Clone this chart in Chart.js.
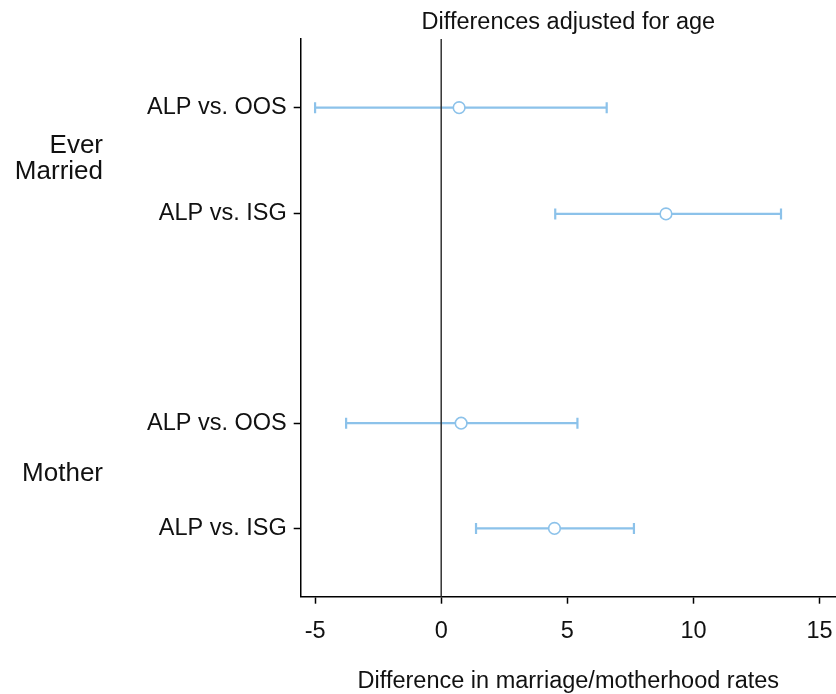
<!DOCTYPE html>
<html>
<head>
<meta charset="utf-8">
<script src="https://cdn.jsdelivr.net/npm/chart.js@4.4.1/dist/chart.umd.min.js"></script>
<style>
  body { margin: 0; background: #fff; }
  #wrap { width: 836px; height: 694px; }
</style>
</head>
<body>
<div id="wrap"><canvas id="diffChart"></canvas></div>
<script>
// Comparisons, grouped by outcome
const rowLabels = ['ALP vs. OOS', 'ALP vs. ISG', 'ALP vs. OOS', 'ALP vs. ISG'];
const rowGroups = ['Ever Married', 'Ever Married', 'Mother', 'Mother'];
const rowPos = [1, 2, 3.97, 4.96];

// Point estimates and interval bounds
const estimates = [0.71, 8.91, 0.79, 4.49];
const lowerCI = [-5.0, 4.52, -3.77, 1.38];
const upperCI = [6.56, 13.47, 5.40, 7.64];

const xTicks = [-5, 0, 5, 10, 15];

const FONT = "'Liberation Sans', Arial, sans-serif";
const TEXT = '#111';
const CI_COLOR = '#8cc2ea';

// Interval lines, zero line, title and group labels
const forestPlugin = {
    id: 'forest',
    beforeDatasetsDraw(chart) {
        const { ctx, chartArea, scales: { x, y } } = chart;
        ctx.save();
        ctx.strokeStyle = CI_COLOR;
        ctx.lineWidth = 2.2;
        rowPos.forEach((pos, i) => {
            const py = y.getPixelForValue(pos);
            const x0 = x.getPixelForValue(lowerCI[i]);
            const x1 = x.getPixelForValue(upperCI[i]);
            ctx.beginPath();
            ctx.moveTo(x0, py);
            ctx.lineTo(x1, py);
            ctx.moveTo(x0, py - 5.5);
            ctx.lineTo(x0, py + 5.5);
            ctx.moveTo(x1, py - 5.5);
            ctx.lineTo(x1, py + 5.5);
            ctx.stroke();
        });

        const zx = x.getPixelForValue(0);
        ctx.strokeStyle = '#333';
        ctx.lineWidth = 1.5;
        ctx.beginPath();
        ctx.moveTo(zx, chartArea.top);
        ctx.lineTo(zx, chartArea.bottom);
        ctx.stroke();
        ctx.restore();
    },
    afterDraw(chart) {
        const { ctx, chartArea, scales: { y } } = chart;
        ctx.save();
        ctx.fillStyle = TEXT;
        ctx.textBaseline = 'middle';

        ctx.font = '23.5px ' + FONT;
        ctx.textAlign = 'center';
        ctx.fillText('Differences adjusted for age', (chartArea.left + chartArea.right) / 2, 23);

        // group names, centred on their rows
        ctx.font = '26px ' + FONT;
        ctx.textAlign = 'right';
        const groups = [...new Set(rowGroups)];
        groups.forEach(g => {
            const pos = rowPos.filter((p, i) => rowGroups[i] === g);
            const mid = y.getPixelForValue(pos.reduce((a, b) => a + b, 0) / pos.length);
            const lines = g.split(' ');
            lines.forEach((line, k) => {
                ctx.fillText(line, 103, mid - 2 + (k - (lines.length - 1) / 2) * 26.5);
            });
        });
        ctx.restore();
    }
};

const ctx = document.getElementById('diffChart').getContext('2d');
const diffChart = new Chart(ctx, {
    type: 'scatter',
    data: {
        datasets: [{
            data: estimates.map((v, i) => ({ x: v, y: rowPos[i] })),
            pointRadius: 5.8,
            pointBorderWidth: 1.6,
            pointBackgroundColor: '#fff',
            pointBorderColor: CI_COLOR,
            showLine: false,
        }],
    },
    options: {
        responsive: true,
        maintainAspectRatio: false,
        animation: false,
        events: [],
        layout: { autoPadding: false, padding: { top: 39, left: 0, right: 0, bottom: 0 } },
        plugins: {
            legend: { display: false },
            tooltip: { enabled: false },
        },
        scales: {
            x: {
                type: 'linear',
                min: -5.57,
                max: 15.65,
                afterBuildTicks: axis => { axis.ticks = xTicks.map(v => ({ value: v })); },
                afterFit: axis => {
                    axis.height = 97.3;
                    axis.paddingLeft = 0;
                    axis.paddingRight = 0;
                },
                ticks: {
                    callback: v => String(v),
                    font: { family: FONT, size: 23.5 },
                    color: TEXT,
                    padding: 14,
                    maxRotation: 0,
                    autoSkip: false,
                },
                grid: { drawOnChartArea: false, tickLength: 7, tickWidth: 1.5, tickColor: '#000' },
                border: { display: true, color: '#000', width: 1.5 },
                title: {
                    display: true,
                    text: 'Difference in marriage/motherhood rates',
                    font: { family: FONT, size: 23.5, lineHeight: 0.75 },
                    color: TEXT,
                    padding: { top: 0, bottom: 4 },
                },
            },
            y: {
                type: 'linear',
                reverse: true,
                min: 0.354,
                max: 5.603,
                afterBuildTicks: axis => { axis.ticks = rowPos.map(v => ({ value: v })); },
                afterFit: axis => { axis.width = 300.7; },
                ticks: {
                    callback: (v, i) => rowLabels[i],
                    font: { family: FONT, size: 23.5 },
                    color: TEXT,
                    padding: 7,
                    autoSkip: false,
                },
                grid: { drawOnChartArea: false, tickLength: 7, tickWidth: 1.5, tickColor: '#000' },
                border: { display: true, color: '#000', width: 1.5 },
            },
        },
    },
    plugins: [forestPlugin],
});
</script>
</body>
</html>
